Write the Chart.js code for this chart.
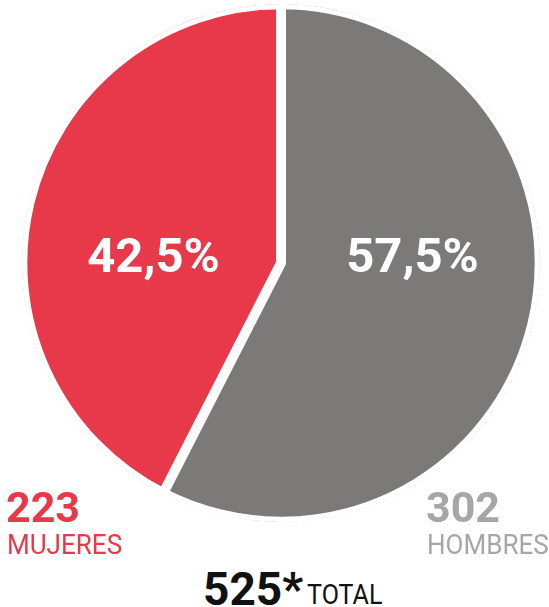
<!DOCTYPE html>
<html>
<head>
<meta charset="utf-8">
<script src="https://cdn.jsdelivr.net/npm/chart.js@4"></script>
<style>
  html, body { margin: 0; padding: 0; background: #fff; }
  body { width: 549px; height: 607px; position: relative; overflow: hidden; font-family: Roboto, sans-serif; }
  #wrap { position: absolute; left: 22px; top: 4px; width: 518px; height: 518px; }
  .num { position: absolute; font-weight: 700; line-height: 1; white-space: nowrap; }
  .lbl { position: absolute; font-weight: 400; line-height: 1; white-space: nowrap;
         transform: scaleX(0.93); transform-origin: left top; }
</style>
</head>
<body>
<div id="wrap"><canvas id="genderChart"></canvas></div>
<div class="num" id="nWomen" style="left:6px; top:486px; font-size:43px; color:#e8394a;"></div>
<div class="lbl" id="lWomen" style="left:7px; top:531px; font-size:28px; color:#e8394a;"></div>
<div class="num" id="nMen" style="left:426px; top:486px; font-size:43px; color:#a6a6a6;"></div>
<div class="lbl" id="lMen" style="left:427px; top:531px; font-size:28px; color:#a6a6a6;"></div>
<div class="num" id="nTotal" style="left:203px; top:566px; font-size:46px; color:#111;"></div>
<div class="lbl" style="left:307px; top:582px; font-size:27px; color:#111;">TOTAL</div>
<script>
// data (grey slice first so it starts at the top going clockwise)
const categories = ['HOMBRES', 'MUJERES'];
const counts = [302, 223];
const sliceColors = ['#7b7a78', '#e8394a'];

const total = counts.reduce((a, b) => a + b, 0);
const pctText = v => (v / total * 100).toFixed(1).replace('.', ',') + '%';

document.getElementById('nMen').textContent = counts[0];
document.getElementById('lMen').textContent = categories[0];
document.getElementById('nWomen').textContent = counts[1];
document.getElementById('lWomen').textContent = categories[1];
document.getElementById('nTotal').textContent = total + '*';

// percentage labels inside the slices
const pctLabels = {
    id: 'pctLabels',
    afterDatasetsDraw(chart) {
        const ctx = chart.ctx;
        const arcs = chart.getDatasetMeta(0).data;
        ctx.save();
        ctx.fillStyle = '#fff';
        ctx.font = 'bold 49px Roboto, sans-serif';
        ctx.textAlign = 'center';
        ctx.textBaseline = 'middle';
        arcs.forEach((arc, i) => {
            const mid = (arc.startAngle + arc.endAngle) / 2;
            const side = Math.cos(mid) >= 0 ? 1 : -1;
            const x = arc.x + side * arc.outerRadius * 0.5 + 2;
            const y = arc.y - 3;
            ctx.fillText(pctText(counts[i]), x, y);
        });
        ctx.restore();
    }
};

const genderChart = new Chart(document.getElementById('genderChart').getContext('2d'), {
    type: 'pie',
    data: {
        labels: categories,
        datasets: [{
            data: counts,
            backgroundColor: sliceColors,
            borderColor: '#fff',
            borderWidth: 5,
            borderAlign: 'inner',
        }],
    },
    options: {
        responsive: true,
        maintainAspectRatio: false,
        animation: false,
        layout: { padding: 0 },
        plugins: {
            legend: { display: false },
            tooltip: { enabled: false },
        },
    },
    plugins: [pctLabels],
});
</script>
</body>
</html>
